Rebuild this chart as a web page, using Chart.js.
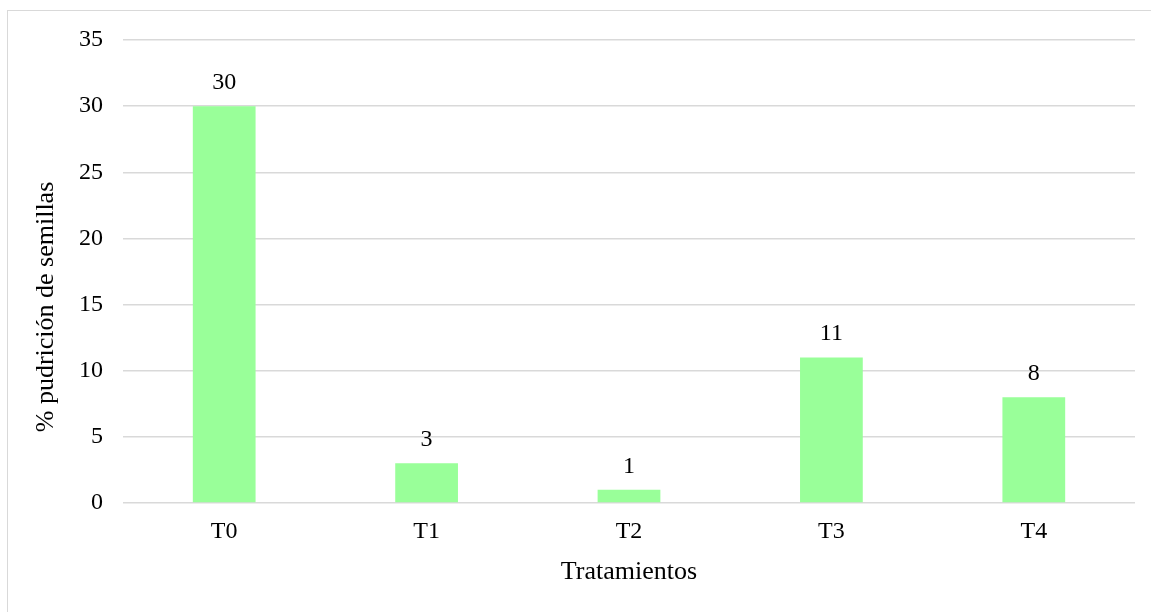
<!DOCTYPE html>
<html>
<head>
<meta charset="utf-8">
<script src="https://cdn.jsdelivr.net/npm/chart.js@4"></script>
<style>
    html, body { margin: 0; padding: 0; background: #fff; overflow: hidden; }
    #wrap { position: relative; width: 1151px; height: 612px; overflow: hidden; }
    #frame {
        position: absolute; left: 7px; top: 10px;
        width: 1160px; height: 620px;
        border: 1px solid #d9d9d9;
        pointer-events: none;
    }
    canvas { position: absolute; left: 0; top: 0; }
</style>
</head>
<body>
<div id="wrap">
    <canvas id="rotChart" width="1151" height="612"></canvas>
    <div id="frame"></div>
</div>
<script>
const categories = ['T0', 'T1', 'T2', 'T3', 'T4'];
const rotValues = [30, 3, 1, 11, 8];
const yMin = 0;
const yMax = 35;
const yStep = 5;
const yTitle = '% pudrición de semillas';
const xTitle = 'Tratamientos';

const FONT = "'Liberation Serif', 'Times New Roman', serif";

// value labels above each bar
const barValueLabels = {
    id: 'barValueLabels',
    afterDatasetsDraw(chart) {
        const ctx = chart.ctx;
        const meta = chart.getDatasetMeta(0);
        ctx.save();
        ctx.font = '24px ' + FONT;
        ctx.fillStyle = '#000';
        ctx.textAlign = 'center';
        ctx.textBaseline = 'alphabetic';
        meta.data.forEach((bar, i) => {
            ctx.fillText(String(rotValues[i]), bar.x, bar.y - 17);
        });
        ctx.restore();
    }
};

// vertical axis title, centred on the whole chart height
const yAxisTitle = {
    id: 'yAxisTitle',
    afterDraw(chart) {
        const ctx = chart.ctx;
        ctx.save();
        ctx.translate(46, chart.height / 2 + 1);
        ctx.rotate(-Math.PI / 2);
        ctx.font = '26px ' + FONT;
        ctx.fillStyle = '#000';
        ctx.textAlign = 'center';
        ctx.textBaseline = 'middle';
        ctx.fillText(yTitle, 0, 0);
        ctx.restore();
    }
};

const ctx = document.getElementById('rotChart').getContext('2d');

new Chart(ctx, {
    type: 'bar',
    data: {
        labels: categories,
        datasets: [
            {
                label: yTitle,
                data: rotValues,
                backgroundColor: '#99ff99',
                borderWidth: 0,
                barPercentage: 0.31,
                categoryPercentage: 1.0
            }
        ]
    },
    options: {
        responsive: false,
        animation: false,
        devicePixelRatio: 1,
        layout: {
            padding: { top: 40, right: 16, bottom: 24, left: 0 }
        },
        scales: {
            y: {
                min: yMin,
                max: yMax,
                ticks: {
                    stepSize: yStep,
                    color: '#000',
                    padding: 20,
                    font: { family: FONT, size: 24 }
                },
                grid: {
                    color: '#d9d9d9',
                    lineWidth: 1.5,
                    drawTicks: false
                },
                border: { display: false },
                afterFit(scale) { scale.width = 123; }
            },
            x: {
                ticks: {
                    color: '#000',
                    padding: 14,
                    font: { family: FONT, size: 24 }
                },
                grid: { display: false, drawTicks: false },
                border: { display: false },
                title: {
                    display: true,
                    text: xTitle,
                    color: '#000',
                    font: { family: FONT, size: 26 },
                    padding: { top: 0, bottom: 0 }
                },
                afterFit(scale) { scale.height = 85; }
            }
        },
        plugins: {
            legend: { display: false },
            tooltip: { enabled: false }
        }
    },
    plugins: [barValueLabels, yAxisTitle]
});
</script>
</body>
</html>
